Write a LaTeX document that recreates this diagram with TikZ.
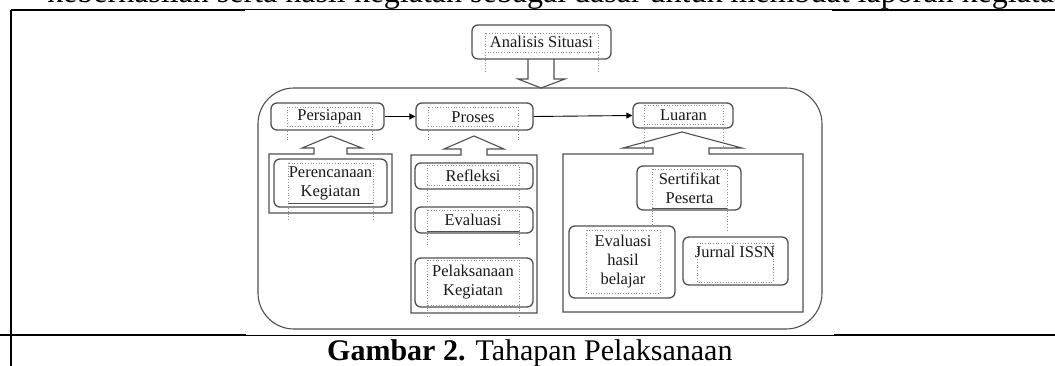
\documentclass[tikz,border=0pt]{standalone}
\usepackage{fontspec}
\setmainfont{Liberation Serif}
\usetikzlibrary{arrows.meta}
\definecolor{boxgray}{RGB}{80,80,80}
\definecolor{dotgray}{RGB}{140,140,140}
\tikzset{
  box/.style={draw=boxgray, line width=1.3pt, rounded corners=6pt, fill=white, inner sep=0pt},
  dotbox/.style={draw=dotgray, dotted, line width=0.7pt},
  lbl/.style={font=\fontsize{16.5}{19}\selectfont, align=center, text=black!90, inner sep=0pt},
  hollow/.style={draw=boxgray, line width=1.1pt, fill=white, line join=miter},
  conn/.style={draw=black, line width=0.9pt, -{Triangle[length=6pt,width=6pt]}},
  frame/.style={draw=black}
}
\begin{document}
\begin{tikzpicture}[x=1pt,y=-1pt]
\useasboundingbox (0,0) rectangle (1055,366);
\clip (0,0) rectangle (1055,366);
% cut text line at top
\node[anchor=base west, inner sep=0pt, font=\fontsize{32}{36}\selectfont] (topline) at (47,2.5) {keberhasilan serta hasil kegiatan sebagai dasar untuk membuat laporan kegiatan};
% frame lines
\draw[frame, line width=2pt] (11,10) -- (245,10);
\draw[frame, line width=1pt] (245,10) -- (832,10);
\draw[frame, line width=2pt] (832,10) -- (1055,10);
\draw[frame, line width=1.3pt] (11,10) -- (11,366);
\draw[frame, line width=2pt] (0,335) -- (246,335);
\draw[frame, line width=1pt] (246,335) -- (834,335);
\draw[frame, line width=2pt] (834,335) -- (1055,335);
% caption
\node[anchor=base west, inner sep=0pt, font=\fontsize{30}{36}\selectfont] (caption) at (327,360) {\textbf{Gambar 2.} Tahapan Pelaksanaan};

% big rounded container
\draw[draw=boxgray, line width=1.1pt, rounded corners=36pt] (258,88) rectangle (822,329);

% hollow arrow Analisis -> container
\draw[hollow] (528,58) -- (528,79) -- (518,79) -- (541,88) -- (565,79) -- (554,79) -- (554,58);

% arrow+box under Persiapan
\draw[hollow] (269,154) -- (314,154) -- (314,148) -- (302,148) -- (331,136) -- (362,148) -- (347,148) -- (347,154) -- (392,154) -- (392,213) -- (269,213) -- cycle;
% arrow+box under Proses
\draw[hollow] (411,155) -- (461,155) -- (461,149) -- (444,149) -- (474,136) -- (504,149) -- (487,149) -- (487,155) -- (537,155) -- (537,313) -- (411,313) -- cycle;
% arrow+box under Luaran
\draw[hollow] (563,154) -- (653,154) -- (653,148) -- (623,148) -- (682,132) -- (742,148) -- (709,148) -- (709,154) -- (803,154) -- (803,312) -- (563,312) -- cycle;

% boxes
\node[box, minimum width=139pt, minimum height=34pt] (anal) at (541.5,42) {};
\node[box, minimum width=113pt, minimum height=27pt] (pers) at (327.5,116.5) {};
\node[box, minimum width=117pt, minimum height=27pt] (pros) at (474.5,116.5) {};
\node[box, minimum width=100pt, minimum height=25pt] (luar) at (683,115.5) {};
\node[box, minimum width=113pt, minimum height=48pt] (renc) at (330.5,183) {};
\node[box, minimum width=118pt, minimum height=26pt] (refl) at (474,176) {};
\node[box, minimum width=118pt, minimum height=26pt] (eval) at (474,220) {};
\node[box, minimum width=118pt, minimum height=49pt] (pela) at (474,282.5) {};
\node[box, minimum width=104pt, minimum height=44pt] (sert) at (689,188) {};
\node[box, minimum width=106pt, minimum height=72pt] (evhb) at (622,262) {};
\node[box, minimum width=105pt, minimum height=48pt] (jurn) at (735.5,261) {};

% connectors
\draw[conn] (pers.east) -- (pros.west);
\draw[conn] (pros.east) -- (luar.west);

% dotted text frames
\draw[dotbox] (485,33) rectangle (598,52) (485,52) -- (485,72) (598,52) -- (598,72);
\draw[dotbox] (287,107) rectangle (372,126) (287,126) -- (287,140) (372,126) -- (372,140);
\draw[dotbox] (428,107) rectangle (518,126) (428,126) -- (428,140) (518,126) -- (518,140);
\draw[dotbox] (644,105) rectangle (723,124) (644,124) -- (644,148) (723,124) -- (723,148);
\draw[dotbox] (288,163) rectangle (373,203) (288,203) -- (288,221) (373,203) -- (373,221);
\draw[dotbox] (427,165) rectangle (519,185) (427,185) -- (427,202) (519,185) -- (519,202);
\draw[dotbox] (427,210) rectangle (519,231) (427,231) -- (427,247) (519,231) -- (519,247);
\draw[dotbox] (427,260) rectangle (519,305) (427,305) -- (427,318) (519,305) -- (519,318);
\draw[dotbox] (652,169) rectangle (727,208) (652,208) -- (652,226) (727,208) -- (727,230);
\draw[dotbox] (586,230) rectangle (660,293);
\draw[dotbox] (697,243) rectangle (773,282);
\draw[draw=boxgray, line width=0.6pt] (288,203) -- (373,203) (427,231) -- (519,231) (652,208) -- (727,208);

% labels
\node[lbl] (analT) at (anal.center) {Analisis Situasi};
\node[lbl] (persT) at (329.5,117) {Persiapan};
\node[lbl] (prosT) at (473,117) {Proses};
\node[lbl] (luarT) at (683.5,115.5) {Luaran};
\node[lbl] (rencT) at (330.5,183) {Perencanaan\\Kegiatan};
\node[lbl] (reflT) at (473,175.5) {Refleksi};
\node[lbl] (evalT) at (473,220) {Evaluasi};
\node[lbl] (pelaT) at (473,282.5) {Pelaksanaan\\Kegiatan};
\node[lbl] (sertT) at (689.5,188) {Sertifikat\\Peserta};
\node[lbl] (evhbT) at (623,261.5) {Evaluasi\\hasil\\belajar};
\node[lbl] (jurnT) at (735,252) {Jurnal ISSN};
\end{tikzpicture}
\end{document}
